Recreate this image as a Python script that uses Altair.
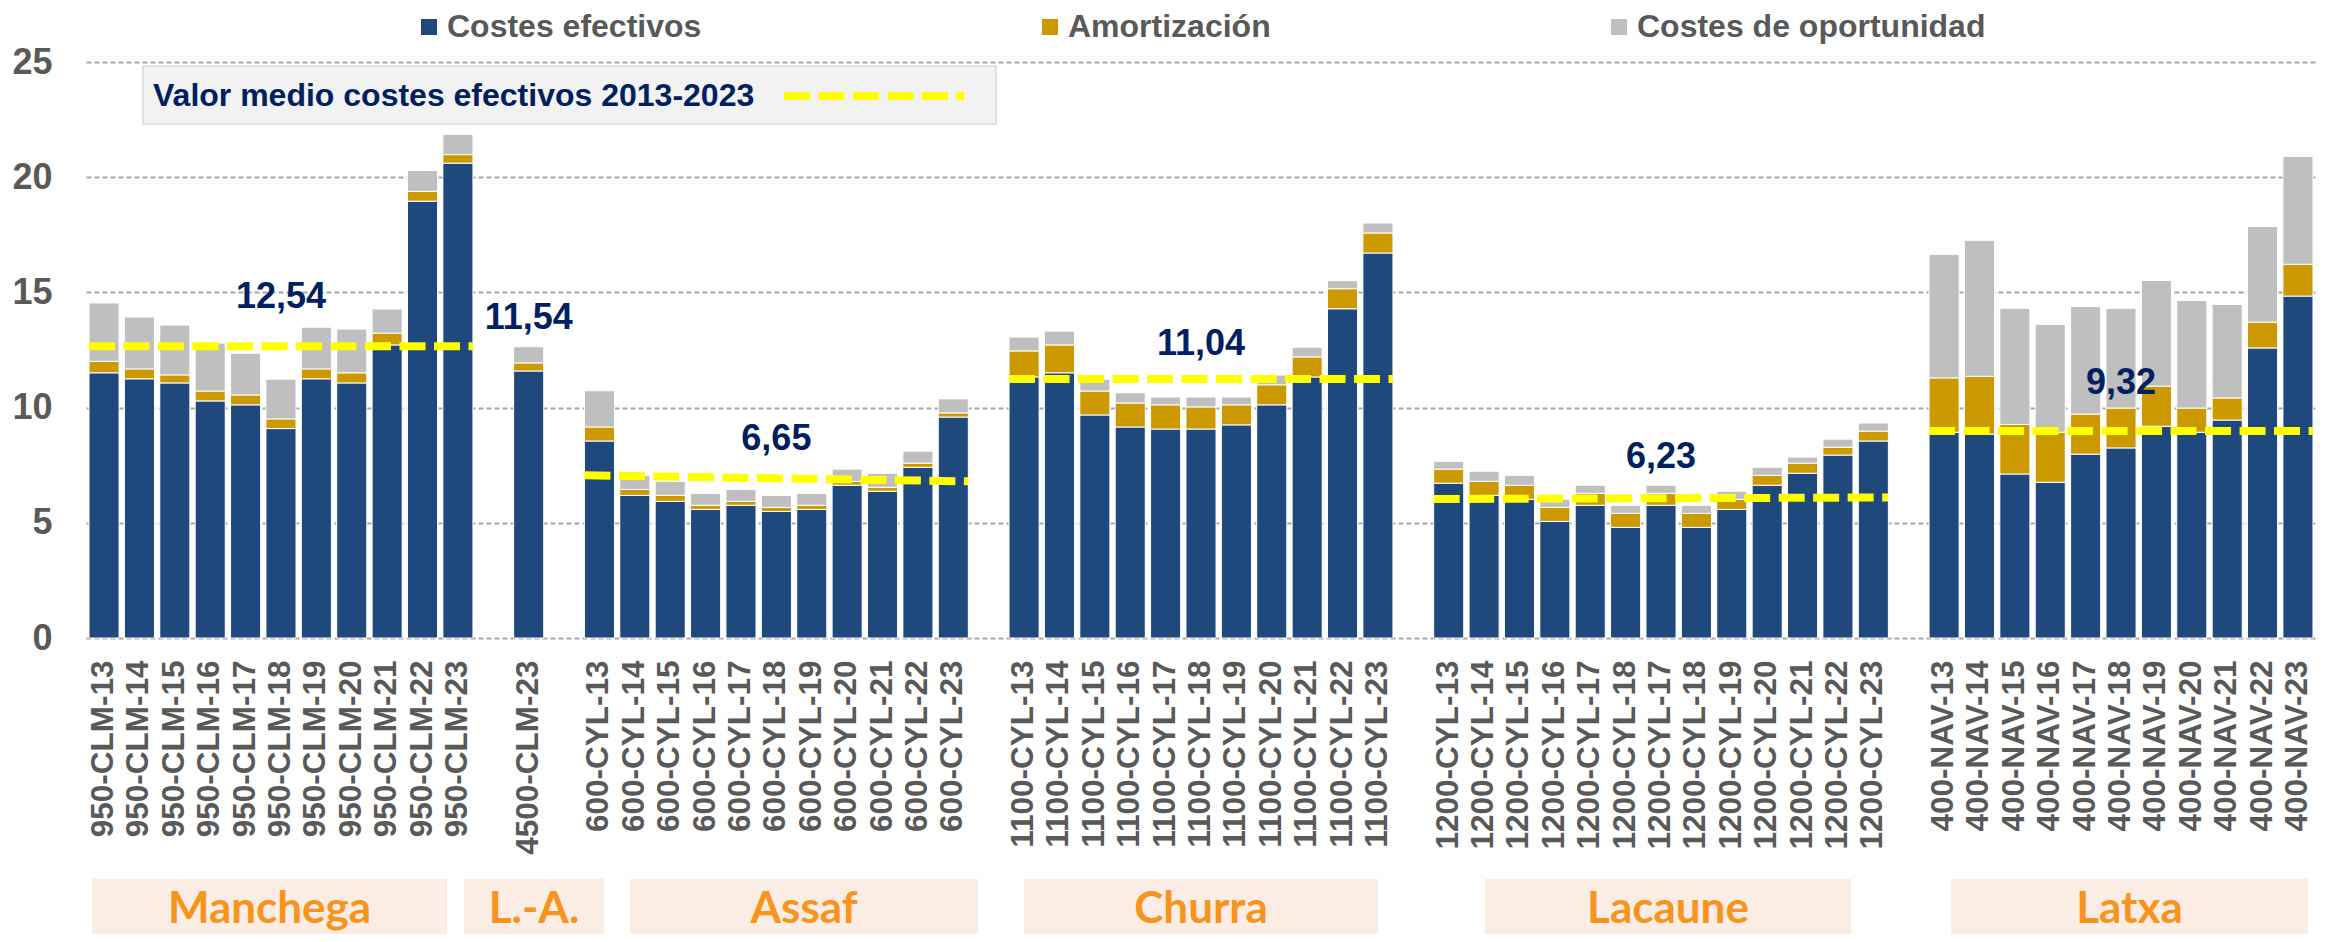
import altair as alt
import pandas as pd

# ---------------- data ----------------
SERIES = ["Costes efectivos", "Amortización", "Costes de oportunidad"]
COLORS = ["#1F497D", "#CC9900", "#BFBFBF"]

breeds = ["Manchega", "L.-A.", "Assaf", "Churra", "Lacaune", "Latxa"]

labels_manchega = ["950-CLM-13", "950-CLM-14", "950-CLM-15", "950-CLM-16", "950-CLM-17", "950-CLM-18",
                   "950-CLM-19", "950-CLM-20", "950-CLM-21", "950-CLM-22", "950-CLM-23"]
efect_manchega = [11.51, 11.25, 11.07, 10.29, 10.12, 9.09, 11.25, 11.07, 12.72, 18.96, 20.61]
amort_manchega = [0.50, 0.43, 0.35, 0.43, 0.43, 0.42, 0.43, 0.44, 0.51, 0.43, 0.37]
oport_manchega = [2.53, 2.25, 2.16, 2.08, 1.81, 1.72, 1.81, 1.90, 1.05, 0.90, 0.88]

labels_la = ["4500-CLM-23"]
efect_la = [11.59]
amort_la = [0.35]
oport_la = [0.70]

labels_assaf = ["600-CYL-13", "600-CYL-14", "600-CYL-15", "600-CYL-16", "600-CYL-17", "600-CYL-18",
                "600-CYL-19", "600-CYL-20", "600-CYL-21", "600-CYL-22", "600-CYL-23"]
efect_assaf = [8.55, 6.19, 5.93, 5.58, 5.76, 5.49, 5.58, 6.63, 6.37, 7.41, 9.59]
amort_assaf = [0.61, 0.26, 0.26, 0.18, 0.17, 0.18, 0.18, 0.17, 0.17, 0.18, 0.18]
oport_assaf = [1.57, 0.61, 0.61, 0.52, 0.52, 0.52, 0.52, 0.53, 0.61, 0.52, 0.61]

labels_churra = ["1100-CYL-13", "1100-CYL-14", "1100-CYL-15", "1100-CYL-16", "1100-CYL-17", "1100-CYL-18",
                 "1100-CYL-19", "1100-CYL-20", "1100-CYL-21", "1100-CYL-22", "1100-CYL-23"]
efect_churra = [11.33, 11.51, 9.68, 9.16, 9.07, 9.07, 9.25, 10.12, 11.33, 14.29, 16.71]
amort_churra = [1.13, 1.21, 1.04, 1.04, 1.05, 0.96, 0.87, 0.87, 0.87, 0.87, 0.87]
oport_churra = [0.60, 0.60, 0.51, 0.44, 0.34, 0.43, 0.34, 0.42, 0.42, 0.35, 0.43]

labels_lacaune = ["1200-CYL-13", "1200-CYL-14", "1200-CYL-15", "1200-CYL-16", "1200-CYL-17", "1200-CYL-18",
                  "1200-CYL-17", "1200-CYL-18", "1200-CYL-19", "1200-CYL-20", "1200-CYL-21", "1200-CYL-22",
                  "1200-CYL-23"]
efect_lacaune = [6.72, 6.19, 6.02, 5.06, 5.76, 4.80, 5.76, 4.80, 5.58, 6.63, 7.15, 7.94, 8.55]
amort_lacaune = [0.61, 0.61, 0.61, 0.61, 0.52, 0.61, 0.52, 0.61, 0.44, 0.43, 0.44, 0.34, 0.43]
oport_lacaune = [0.34, 0.44, 0.43, 0.35, 0.35, 0.35, 0.35, 0.35, 0.35, 0.35, 0.26, 0.35, 0.35]

labels_latxa = ["400-NAV-13", "400-NAV-14", "400-NAV-15", "400-NAV-16", "400-NAV-17", "400-NAV-18",
                "400-NAV-19", "400-NAV-20", "400-NAV-21", "400-NAV-22", "400-NAV-23"]
efect_latxa = [8.93, 8.85, 7.12, 6.76, 7.98, 8.25, 9.19, 8.93, 9.46, 12.59, 14.84]
amort_latxa = [2.36, 2.51, 2.15, 2.17, 1.74, 1.73, 1.74, 1.05, 0.96, 1.12, 1.38]
oport_latxa = [5.36, 5.90, 5.04, 4.68, 4.67, 4.33, 4.59, 4.67, 4.06, 4.15, 4.68]

# mean of costes efectivos 2013-2023 per breed (label) and drawn dashed line (start/end level)
mean_values = [12.54, 11.54, 6.65, 11.04, 6.23, 9.32]
line_start = [12.66, None, 7.06, 11.24, 6.03, 8.98]
line_end = [12.66, None, 6.80, 11.24, 6.10, 8.98]

# ---------------- layout (not data) ----------------
FONT = "Liberation Sans, Arial, sans-serif"
W, H = 2230, 576
PAD = {"left": 78, "top": 54, "right": 10, "bottom": 296}
label_y = [14.8, 13.9, 8.65, 12.77, 7.85, 11.05]          # vertical anchor of mean labels
breed_box_px = [(6, 361), (378, 518), (544, 892), (938, 1292), (1399, 1765), (1865, 2222)]

# ---------------- build tables ----------------
group_labels = [labels_manchega, labels_la, labels_assaf, labels_churra, labels_lacaune, labels_latxa]
group_ef = [efect_manchega, efect_la, efect_assaf, efect_churra, efect_lacaune, efect_latxa]
group_am = [amort_manchega, amort_la, amort_assaf, amort_churra, amort_lacaune, amort_latxa]
group_op = [oport_manchega, oport_la, oport_assaf, oport_churra, oport_lacaune, oport_latxa]

domain = []
rows = []
groups = []
for gi, (labs, ef, am, op) in enumerate(zip(group_labels, group_ef, group_am, group_op)):
    if gi > 0:
        domain.append(f"#{gi}")  # empty slot between breeds
    keys = []
    for lab in labs:
        k = lab
        while k in domain:
            k += "*"
        domain.append(k)
        keys.append(k)
    for k, a, b, c in zip(keys, ef, am, op):
        rows.append({"key": k, "serie": SERIES[0], "ord": 0, "val": a})
        rows.append({"key": k, "serie": SERIES[1], "ord": 1, "val": b})
        rows.append({"key": k, "serie": SERIES[2], "ord": 2, "val": c})
    groups.append({"first": keys[0], "last": keys[-1], "mid": keys[len(keys) // 2]})

df = pd.DataFrame(rows)

lines_df = pd.DataFrame([
    {"first": g["first"], "last": g["last"], "start": s, "end": e}
    for g, s, e in zip(groups, line_start, line_end) if s is not None
])
labels_df = pd.DataFrame([
    {"mid": g["mid"], "ly": y, "txt": f"{v:.2f}".replace(".", ",")}
    for g, y, v in zip(groups, label_y, mean_values)
])

x_scale = alt.Scale(domain=domain, paddingInner=0.15, paddingOuter=0.085)
y_scale = alt.Scale(domain=[0, 25], nice=False)

x_axis = alt.Axis(
    labelAngle=270,
    labelExpr="indexof(datum.value, '#') == 0 ? '' : replace(datum.value, '*', '')",
    labelFont=FONT, labelFontSize=31.5, labelFontWeight="bold", labelColor="#595959",
    labelPadding=22, labelLimit=0, domain=False, ticks=False, tickSize=0, grid=False,
    labelOverlap=False)
y_axis = alt.Axis(
    values=[0, 5, 10, 15, 20, 25], labelFont=FONT, labelFontSize=36, labelFontWeight="bold",
    labelColor="#595959", labelPadding=34, domain=False, ticks=False, tickSize=0,
    grid=True, gridColor="#A6A6A6", gridDash=[5, 3], gridWidth=2)

bars = alt.Chart(df).mark_bar(stroke="#FFFFFF", strokeWidth=1).encode(
    x=alt.X("key:N", scale=x_scale, title=None, axis=x_axis),
    y=alt.Y("val:Q", stack="zero", scale=y_scale, title=None, axis=y_axis),
    color=alt.Color("serie:N", scale=alt.Scale(domain=SERIES, range=COLORS), legend=alt.Legend(
        orient="none", legendX=327, legendY=-51, direction="horizontal", title=None,
        symbolType="square", symbolSize=256, symbolStrokeWidth=0, labelFont=FONT,
        labelFontSize=32, labelFontWeight="bold", labelColor="#595959", labelOffset=2,
        columnPadding=332, labelLimit=0, padding=0)),
    order=alt.Order("ord:Q", sort="ascending"),
)

lines = alt.Chart(lines_df).mark_rule(color="#FFFF00", strokeWidth=8, strokeDash=[26, 8.5]).encode(
    x=alt.X("first:N", scale=x_scale, bandPosition=0, title=None, axis=x_axis),
    x2=alt.X2("last:N", bandPosition=1),
    y=alt.Y("start:Q", scale=y_scale, title=None, axis=y_axis),
    y2=alt.Y2("end:Q"),
)

mean_text = alt.Chart(labels_df).mark_text(
    font=FONT, fontSize=36, fontWeight="bold", color="#002060", align="center", baseline="middle"
).encode(
    x=alt.X("mid:N", scale=x_scale, title=None, axis=x_axis),
    y=alt.Y("ly:Q", scale=y_scale, title=None, axis=y_axis),
    text="txt:N",
)

one = pd.DataFrame({"a": [0]})

note_box = alt.Chart(one).mark_rect(fill="#F2F2F2", stroke="#D9D9D9", strokeWidth=1.5).encode(
    x=alt.value(57), x2=alt.value(910), y=alt.value(4), y2=alt.value(62))
note_text = alt.Chart(one).mark_text(
    text="Valor medio costes efectivos 2013-2023", font=FONT, fontSize=32, fontWeight="bold",
    color="#002060", align="left", baseline="middle").encode(x=alt.value(67), y=alt.value(34))
note_line = alt.Chart(one).mark_rule(color="#FFFF00", strokeWidth=8, strokeDash=[26, 8.5]).encode(
    x=alt.value(698), x2=alt.value(878), y=alt.value(34))

deco = []
for name, (x0, x1) in zip(breeds, breed_box_px):
    deco.append(alt.Chart(one).mark_rect(fill="#FBECE4").encode(
        x=alt.value(x0), x2=alt.value(x1), y=alt.value(817), y2=alt.value(880)))
    deco.append(alt.Chart(one).mark_text(
        text=name, font="Lato, Open Sans, sans-serif", fontSize=44, fontWeight="bold",
        color="#F7941D", align="center", baseline="alphabetic").encode(
        x=alt.value((x0 + x1) / 2), y=alt.value(861)))

chart = alt.layer(bars, lines, mean_text, note_box, note_text, note_line, *deco).properties(
    width=W, height=H, autosize=alt.AutoSizeParams(type="none"), padding=PAD,
    background="#FFFFFF",
).configure_view(stroke=None)

chart.save("out.html", embed_options={"renderer": "svg", "actions": False})
